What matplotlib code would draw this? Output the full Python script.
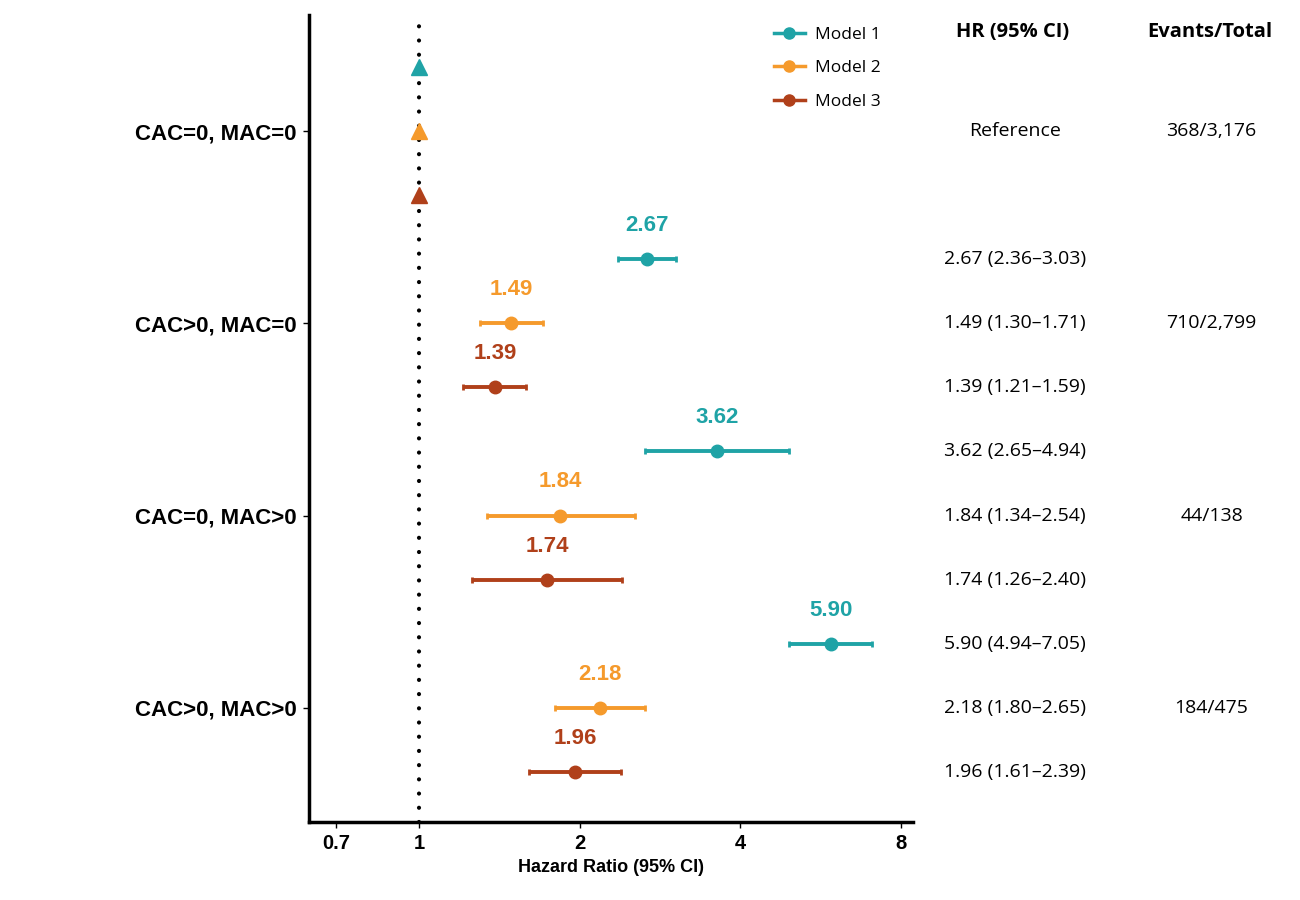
import matplotlib
matplotlib.use("Agg")
import matplotlib.pyplot as plt
from matplotlib.lines import Line2D
from matplotlib.transforms import blended_transform_factory

# groups and models
groups = ["CAC=0, MAC=0", "CAC>0, MAC=0", "CAC=0, MAC>0", "CAC>0, MAC>0"]
events = ["368/3,176", "710/2,799", "44/138", "184/475"]
models = ["Model 1", "Model 2", "Model 3"]
colors = ["#1fa3a6", "#f59a2c", "#b0401a"]

# hazard ratios per group (rows) and model (cols); reference group = 1
hr = [[1.00, 1.00, 1.00],
      [2.67, 1.49, 1.39],
      [3.62, 1.84, 1.74],
      [5.90, 2.18, 1.96]]
lo = [[None, None, None],
      [2.36, 1.30, 1.21],
      [2.65, 1.34, 1.26],
      [4.94, 1.80, 1.61]]
hi = [[None, None, None],
      [3.03, 1.71, 1.59],
      [4.94, 2.54, 2.40],
      [7.05, 2.65, 2.39]]

xticks = [0.7, 1, 2, 4, 8]

fig = plt.figure(figsize=(13, 9), dpi=100)
ax = fig.add_axes([0.238, 0.087, 0.464, 0.896])
ax.set_xscale("log", base=2)
ax.set_ylim(11.78, -0.81)
ax.set_xlim(0.624, 8.4)
tr = blended_transform_factory(fig.transFigure, ax.transData)

ax.axvline(1, color="black", linestyle=(0, (0.01, 3.4)), linewidth=3,
           dash_capstyle="round", zorder=1)

row = 0
for g in range(len(groups)):
    for m in range(len(models)):
        c = colors[m]
        if lo[g][m] is None:
            ax.plot(hr[g][m], row, marker="^", markersize=12, color=c, zorder=3)
        else:
            ax.errorbar(hr[g][m], row,
                        xerr=[[hr[g][m] - lo[g][m]], [hi[g][m] - hr[g][m]]],
                        fmt="o", color=c, markersize=9, elinewidth=2.8,
                        capsize=2.5, capthick=2, zorder=3)
            ax.text(hr[g][m], row - 0.36, f"{hr[g][m]:.2f}", color=c,
                    fontsize=16, fontweight="bold", ha="center", va="bottom",
                    family="Liberation Sans")
            # table text to the right
            ax.text(0.781, row,
                    f"{hr[g][m]:.2f} ({lo[g][m]:.2f}\u2013{hi[g][m]:.2f})",
                    transform=tr, fontsize=14, ha="center", va="center",
                    family="Open Sans")
        row += 1

ypos = [1, 4, 7, 10]
ax.set_yticks(ypos)
ax.set_yticklabels(groups, fontsize=16, fontweight="bold", family="Liberation Sans")
ax.tick_params(axis="y", length=4, width=1, pad=5)

ax.set_xticks(xticks)
ax.set_xticklabels([str(t) for t in xticks], fontsize=14.5, fontweight="bold",
                   family="Liberation Sans")
ax.minorticks_off()
ax.tick_params(axis="x", length=4, width=1, pad=5)
ax.set_xlabel("Hazard Ratio (95% CI)", fontsize=13, fontweight="bold",
              family="Liberation Sans", labelpad=4)

for s in ["top", "right"]:
    ax.spines[s].set_visible(False)
ax.spines["left"].set_linewidth(2.5)
ax.spines["bottom"].set_linewidth(2.5)

# reference row and events column
for g in range(len(groups)):
    if g == 0:
        ax.text(0.781, ypos[g], "Reference", transform=tr, fontsize=14,
                ha="center", va="center", family="Open Sans")
    ax.text(0.932, ypos[g], events[g], transform=tr, fontsize=14,
            ha="center", va="center", family="Open Sans")

fig.text(0.779, 0.964, "HR (95% CI)", fontsize=14.5, fontweight="bold",
         ha="center", va="center", family="Open Sans")
fig.text(0.931, 0.964, "Evants/Total", fontsize=14.5, fontweight="bold",
         ha="center", va="center", family="Open Sans")

handles = [Line2D([0], [0], color=c, marker="o", markersize=8, linewidth=2.5) for c in colors]
fig.legend(handles, models, loc="upper left", bbox_to_anchor=(0.583, 0.988),
           frameon=False, handlelength=1.8, labelspacing=1.0, handletextpad=0.6,
           prop={"family": "Open Sans", "size": 12.5})

fig.savefig("out.png", dpi=100)
